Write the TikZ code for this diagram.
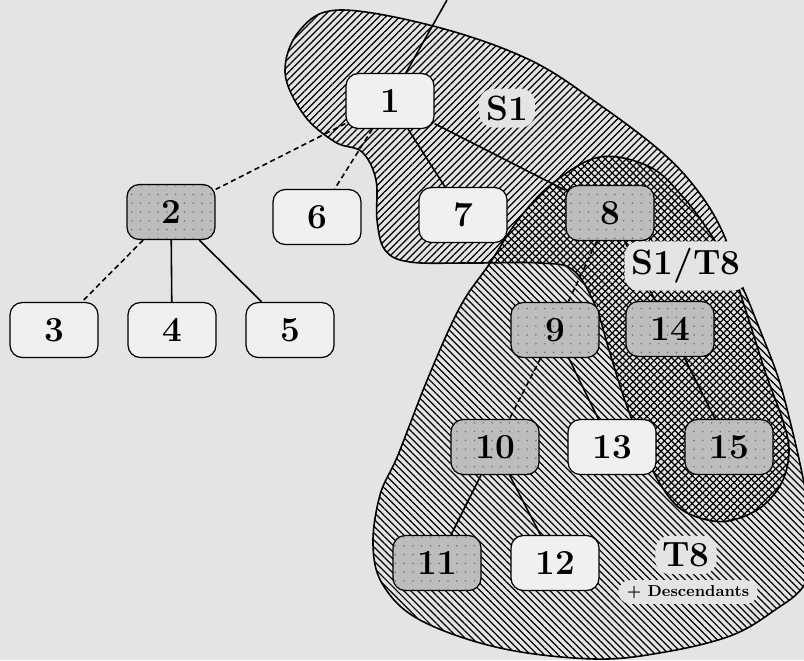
\documentclass[tikz,border=0pt]{standalone}
\usepackage{tikz}
\usetikzlibrary{patterns.meta}

\definecolor{paper}{RGB}{230,227,230}
\definecolor{boxlight}{RGB}{241,240,241}
\definecolor{boxgrey}{RGB}{190,188,190}

\tikzset{
    box/.style={draw, line width=0.7pt, rounded corners=7pt, fill=boxlight,
        minimum width=1.76cm, minimum height=1.1cm,
        font=\fontsize{20}{23}\selectfont\bfseries},
    greybox/.style={box, fill=boxgrey,
        postaction={pattern={Dots[distance=5pt, radius=0.5pt]}, pattern color=black!55}},
    link/.style={line width=0.9pt},
    dlink/.style={line width=0.9pt, dash pattern=on 3pt off 2pt},
    region/.style={line width=0.9pt},
    tag/.style={fill=paper, rounded corners=8pt, inner sep=4pt,
        font=\fontsize{20}{23}\selectfont\bfseries},
    smalltag/.style={fill=paper, rounded corners=7pt, inner xsep=5pt, inner ysep=3pt,
        font=\fontsize{9}{10}\selectfont\bfseries}
}

\begin{document}
\begin{tikzpicture}[x=0.02cm, y=-0.02cm]

    % Paper
    \fill[paper] (0,0) rectangle (804,660);
    \useasboundingbox (0,0) rectangle (804,660);

    % Region S1
    \draw[region, pattern={Lines[angle=45, distance=2.8pt, line width=0.7pt]}]
        plot[smooth cycle, tension=0.6] coordinates {
        (285,72) (300,30) (340,10) (437,27) (530,60) (600,105) (665,155)
        (703,198) (726,240) (737,282) (752,330) (767,377) (782,418)
        (789,450) (782,482) (760,508) (728,521) (700,518) (676,505)
        (655,475) (638,435) (623,395) (609,350) (595,305) (573,270)
        (540,263) (470,263) (410,262) (385,250) (377,220) (376,180)
        (362,152) (335,142) (304,115)};

    % Region T8
    \draw[region, pattern={Lines[angle=-45, distance=2.8pt, line width=0.7pt]}]
        plot[smooth cycle, tension=0.6] coordinates {
        (600,157) (650,167) (683,197) (708,230) (725,258) (741,284)
        (760,330) (778,377) (791,425) (803,478) (812,530) (806,582)
        (772,612) (730,636) (665,652) (595,659) (500,648) (420,620)
        (383,585) (373,545) (380,495) (398,455) (428,378) (460,307)
        (490,263) (518,220) (553,183)};

    % Nodes
    \coordinate (feed) at (447,0);
    \node[box]     (n1)  at (390,101) {1};
    \node[greybox] (n2)  at (171,212) {2};
    \node[box]     (n6)  at (317,217) {6};
    \node[box]     (n7)  at (463,215) {7};
    \node[greybox] (n8)  at (610,213) {8};
    \node[box]     (n3)  at (54,330)  {3};
    \node[box]     (n4)  at (172,330) {4};
    \node[box]     (n5)  at (290,330) {5};
    \node[greybox] (n9)  at (555,330) {9};
    \node[greybox] (n14) at (670,329) {14};
    \node[greybox] (n10) at (495,447) {10};
    \node[box]     (n13) at (612,447) {13};
    \node[greybox] (n15) at (729,447) {15};
    \node[greybox] (n11) at (437,563) {11};
    \node[box]     (n12) at (555,563) {12};

    % Edges
    \draw[link]  (feed) -- (n1);
    \draw[dlink] (n1) -- (n2);
    \draw[dlink] (n1) -- (n6);
    \draw[link]  (n1) -- (n7);
    \draw[link]  (n1) -- (n8);
    \draw[dlink] (n2) -- (n3);
    \draw[link]  (n2) -- (n4);
    \draw[link]  (n2) -- (n5);
    \draw[dlink] (n8) -- (n9);
    \draw[link]  (n8) -- (n14);
    \draw[dlink] (n9) -- (n10);
    \draw[link]  (n9) -- (n13);
    \draw[link]  (n14) -- (n15);
    \draw[link]  (n10) -- (n11);
    \draw[link]  (n10) -- (n12);

    % Region labels
    \node[tag]      (s1)   at (507,108) {S1};
    \node[tag]      (s1t8) at (686,266) {S1/T8};
    \node[tag]      (t8)   at (686,555) {T8};
    \node[smalltag] (desc) at (688,592) {+ Descendants};

\end{tikzpicture}
\end{document}
